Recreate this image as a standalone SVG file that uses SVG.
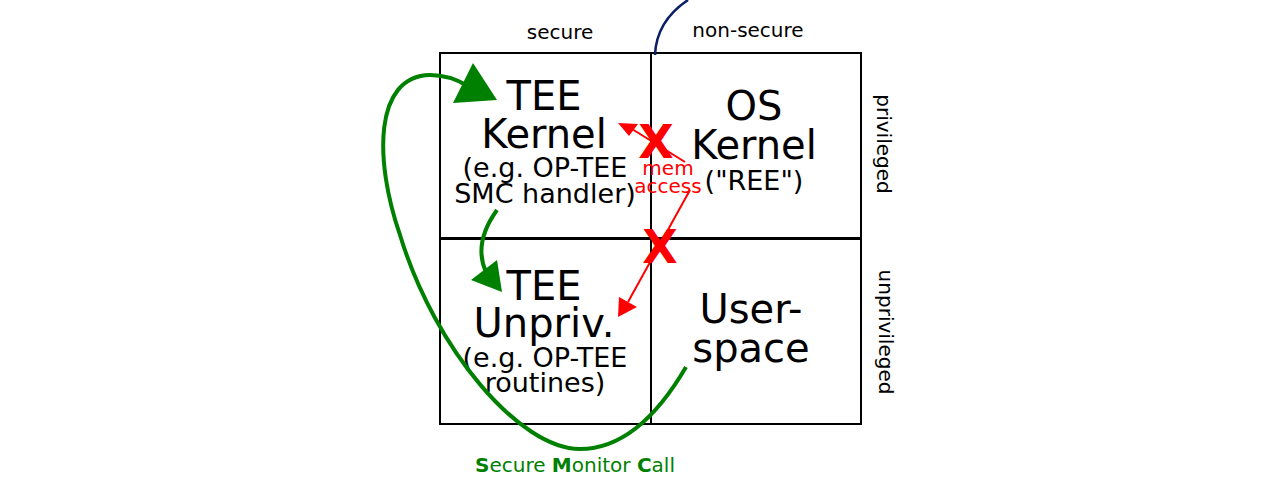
<svg xmlns="http://www.w3.org/2000/svg" width="1273" height="479" viewBox="0 0 1273 479">
<style>
text{font-family:"DejaVu Sans","Verdana",sans-serif;text-anchor:middle}
.cell{fill:#fff;stroke:#000;stroke-width:2}
.big{font-size:40px}
.small{font-size:27px}
.lab{font-size:20px}
.x{font-size:46px;font-weight:bold;fill:#f00}
.red{stroke:#f00;stroke-width:2;fill:none}
.redh{fill:#f00}
.grn{stroke:#008000;stroke-width:4;fill:none}
.grnh{fill:#008000}
.smc{font-size:20px;fill:#008000}
</style>
<rect width="1273" height="479" fill="#fff"/>
<g id="node-tee-kernel">
<rect class="cell" x="440" y="53" width="211" height="185"/>
<text class="big" x="544" y="110">TEE</text>
<text class="big" x="544" y="148">Kernel</text>
<text class="small" x="545" y="177">(e.g. OP-TEE</text>
<text class="small" x="545" y="203">SMC handler)</text>
</g>
<g id="node-os-kernel">
<rect class="cell" x="651" y="53" width="210" height="185"/>
<text class="big" x="754" y="120">OS</text>
<text class="big" x="754" y="159">Kernel</text>
<text class="small" x="754" y="190">("REE")</text>
</g>
<g id="node-tee-unpriv">
<rect class="cell" x="440" y="239" width="211" height="185"/>
<text class="big" x="544" y="300">TEE</text>
<text class="big" x="544" y="337">Unpriv.</text>
<text class="small" x="545" y="367">(e.g. OP-TEE</text>
<text class="small" x="545" y="392">routines)</text>
</g>
<g id="node-userspace">
<rect class="cell" x="651" y="239" width="210" height="185"/>
<text class="big" x="751" y="323">User-</text>
<text class="big" x="751" y="362">space</text>
</g>
<g id="labels">
<text class="lab" x="560" y="39">secure</text>
<text class="lab" x="748" y="37">non-secure</text>
<text class="lab" transform="translate(877,144) rotate(90)">privileged</text>
<text class="lab" transform="translate(879,332) rotate(90)">unprivileged</text>
</g>
<g id="connectors">
<path d="M655,55 C656,30 670,12 688,0" stroke="#0a1f66" stroke-width="2.5" fill="none"/>
<path class="grn" d="M686,367 C655,420 620,449 580,449 C520,449 435,350 400,235 C374,160 374,76 430,75 C445,75 458,80 468,86"/>
<polygon class="grnh" points="473,63 497,100 453,103"/>
<path class="grn" d="M497,210 C484,228 476,250 486,272"/>
<polygon class="grnh" points="497,260 471,280 502,292"/>
<line class="red" x1="685" y1="162" x2="632" y2="129"/>
<polygon class="redh" points="618,123 638,124 629,136"/>
<line class="red" x1="690" y1="190" x2="628" y2="302"/>
<polygon class="redh" points="618,317 619,297 637,307"/>
<text class="x" x="656" y="158">X</text>
<text class="x" x="660" y="263">X</text>
<text class="lab" x="668" y="175" fill="#f00">mem</text>
<text class="lab" x="668" y="193" fill="#f00">access</text>
<text class="smc" x="575" y="472"><tspan font-weight="bold">S</tspan>ecure <tspan font-weight="bold">M</tspan>onitor <tspan font-weight="bold">C</tspan>all</text>
</g>
</svg>
